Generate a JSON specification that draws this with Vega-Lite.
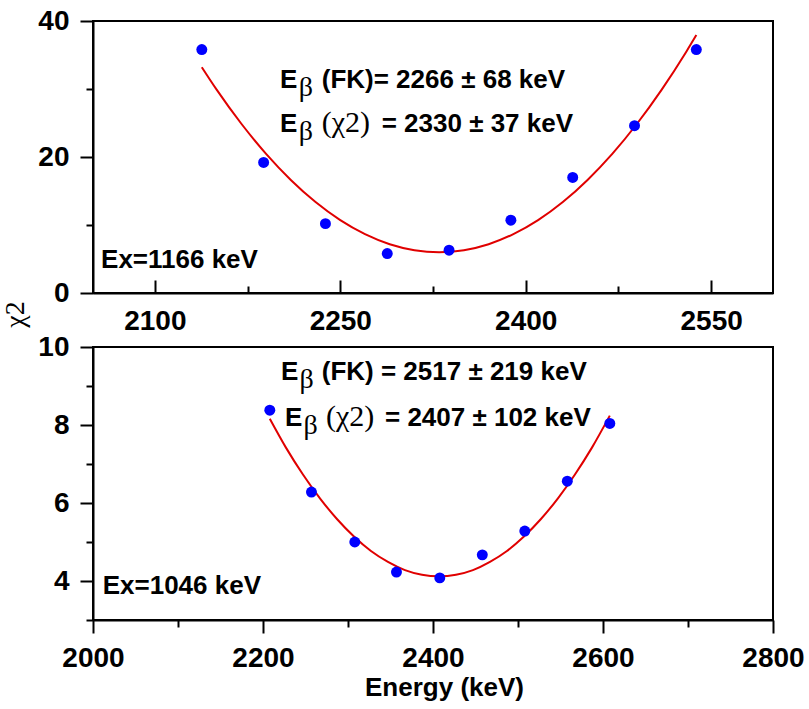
{
  "$schema": "https://vega.github.io/schema/vega-lite/v6.json",
  "padding": {"left": 0, "top": 6, "right": 2, "bottom": 5},
  "background": "white",
  "bounds": "flush",
  "spacing": 54,
  "datasets": {
    "top_pts": [
      {"energy": 2138, "chi2": 35.8}, {"energy": 2188, "chi2": 19.2}, {"energy": 2238, "chi2": 10.2},
      {"energy": 2288, "chi2": 5.8}, {"energy": 2338, "chi2": 6.3}, {"energy": 2388, "chi2": 10.7},
      {"energy": 2438, "chi2": 17.0}, {"energy": 2488, "chi2": 24.6}, {"energy": 2538, "chi2": 35.8}
    ],
    "top_fit": [
      {"energy": 2138, "chi2": 33.21}, {"energy": 2150, "chi2": 29.91}, {"energy": 2170, "chi2": 24.89},
      {"energy": 2190, "chi2": 20.46}, {"energy": 2210, "chi2": 16.63}, {"energy": 2230, "chi2": 13.38},
      {"energy": 2250, "chi2": 10.72}, {"energy": 2270, "chi2": 8.66}, {"energy": 2290, "chi2": 7.18},
      {"energy": 2310, "chi2": 6.30}, {"energy": 2330, "chi2": 6.00}, {"energy": 2350, "chi2": 6.30},
      {"energy": 2370, "chi2": 7.18}, {"energy": 2390, "chi2": 8.66}, {"energy": 2410, "chi2": 10.72},
      {"energy": 2430, "chi2": 13.38}, {"energy": 2450, "chi2": 16.63}, {"energy": 2470, "chi2": 20.46},
      {"energy": 2490, "chi2": 24.89}, {"energy": 2510, "chi2": 29.91}, {"energy": 2530, "chi2": 35.52},
      {"energy": 2538, "chi2": 37.93}
    ],
    "top_txt": [
      {"part": "E", "energy": 2201.2, "chi2": 30.15, "text": "E"},
      {"part": "sub", "energy": 2216.5, "chi2": 30.15, "text": "β"},
      {"part": "value", "energy": 2235.0, "chi2": 30.15, "text": "(FK)= 2266 ± 68 keV"},
      {"part": "E", "energy": 2201.2, "chi2": 23.75, "text": "E"},
      {"part": "sub", "energy": 2216.5, "chi2": 23.75, "text": "β"},
      {"part": "sym", "energy": 2235.0, "chi2": 23.75, "text": "(χ2)"},
      {"part": "value", "energy": 2283.5, "chi2": 23.75, "text": "= 2330 ± 37 keV"},
      {"part": "value", "energy": 2056.5, "chi2": 3.75, "text": "Ex=1166 keV"}
    ],
    "bot_pts": [
      {"energy": 2208, "chi2": 8.38}, {"energy": 2257, "chi2": 6.28}, {"energy": 2308, "chi2": 5.0},
      {"energy": 2357, "chi2": 4.23}, {"energy": 2408, "chi2": 4.08}, {"energy": 2458, "chi2": 4.67},
      {"energy": 2508, "chi2": 5.28}, {"energy": 2558, "chi2": 6.56}, {"energy": 2608, "chi2": 8.04}
    ],
    "bot_fit": [
      {"energy": 2208, "chi2": 8.16}, {"energy": 2227, "chi2": 7.42}, {"energy": 2247, "chi2": 6.73},
      {"energy": 2267, "chi2": 6.12}, {"energy": 2287, "chi2": 5.59}, {"energy": 2307, "chi2": 5.14},
      {"energy": 2327, "chi2": 4.77}, {"energy": 2347, "chi2": 4.49}, {"energy": 2367, "chi2": 4.28},
      {"energy": 2387, "chi2": 4.16}, {"energy": 2407, "chi2": 4.12}, {"energy": 2427, "chi2": 4.16},
      {"energy": 2447, "chi2": 4.28}, {"energy": 2467, "chi2": 4.49}, {"energy": 2487, "chi2": 4.77},
      {"energy": 2507, "chi2": 5.14}, {"energy": 2527, "chi2": 5.59}, {"energy": 2547, "chi2": 6.12},
      {"energy": 2567, "chi2": 6.73}, {"energy": 2587, "chi2": 7.42}, {"energy": 2608, "chi2": 8.24}
    ],
    "bot_txt": [
      {"part": "E", "energy": 2221.2, "chi2": 9.154, "text": "E"},
      {"part": "sub", "energy": 2243.0, "chi2": 9.154, "text": "β"},
      {"part": "value", "energy": 2269.1, "chi2": 9.154, "text": "(FK) = 2517 ± 219 keV"},
      {"part": "E", "energy": 2225.9, "chi2": 7.974, "text": "E"},
      {"part": "sub", "energy": 2247.7, "chi2": 7.974, "text": "β"},
      {"part": "sym", "energy": 2274.1, "chi2": 7.974, "text": "(χ2)"},
      {"part": "value", "energy": 2343.5, "chi2": 7.974, "text": "= 2407 ± 102 keV"},
      {"part": "value", "energy": 2011.4, "chi2": 3.667, "text": "Ex=1046 keV"}
    ]
  },
  "vconcat": [
    {
      "width": 680,
      "height": 272,
      "layer": [
        {
          "data": {"name": "top_fit"},
          "mark": {"type": "line", "color": "#e00000", "strokeWidth": 2, "interpolate": "monotone"},
          "encoding": {
            "x": {"field": "energy", "type": "quantitative", "scale": {"domain": [2050, 2600], "nice": false, "zero": false},
                  "axis": {"orient": "bottom", "values": [2175, 2325, 2475], "tickSize": -7, "labels": false, "domain": false, "title": null}},
            "y": {"field": "chi2", "type": "quantitative", "scale": {"domain": [0, 40], "nice": false, "zero": false},
                  "axis": {"orient": "left", "values": [10, 30], "tickSize": 7, "labels": false, "domain": false, "title": null}}
          }
        },
        {
          "data": {"name": "top_pts"},
          "mark": {"type": "circle", "size": 120, "color": "#0000ff", "opacity": 1},
          "encoding": {
            "x": {"field": "energy", "type": "quantitative", "scale": {"domain": [2050, 2600], "nice": false, "zero": false},
                  "axis": {"orient": "bottom", "values": [2100, 2250, 2400, 2550], "format": "d", "tickSize": -13, "labelPadding": 27, "title": null}},
            "y": {"field": "chi2", "type": "quantitative", "scale": {"domain": [0, 40], "nice": false, "zero": false},
                  "axis": {"orient": "left", "values": [0, 20, 40], "format": "d", "tickSize": 13, "labelPadding": 11,
                           "title": "χ2", "titleFont": "Liberation Serif", "titleFontWeight": "normal", "titleFontSize": 28,
                           "titleX": -78, "titleY": 293, "titleAngle": -90, "titleAlign": "center", "titleBaseline": "middle"}}
          }
        },
        {
          "data": {"name": "top_txt"},
          "transform": [{"filter": "datum.part === 'E' || datum.part === 'value'"}],
          "mark": {"type": "text", "align": "left", "baseline": "alphabetic", "font": "Liberation Sans", "fontWeight": "bold", "fontSize": 26, "color": "black"},
          "encoding": {
            "x": {"field": "energy", "type": "quantitative", "scale": {"domain": [2050, 2600], "nice": false, "zero": false}, "axis": null},
            "y": {"field": "chi2", "type": "quantitative", "scale": {"domain": [0, 40], "nice": false, "zero": false}, "axis": null},
            "text": {"field": "text"}
          }
        },
        {
          "data": {"name": "top_txt"},
          "transform": [{"filter": "datum.part === 'sub'"}],
          "mark": {"type": "text", "align": "left", "baseline": "alphabetic", "font": "Liberation Serif", "fontSize": 28, "dy": 8, "color": "black"},
          "encoding": {
            "x": {"field": "energy", "type": "quantitative", "scale": {"domain": [2050, 2600], "nice": false, "zero": false}, "axis": null},
            "y": {"field": "chi2", "type": "quantitative", "scale": {"domain": [0, 40], "nice": false, "zero": false}, "axis": null},
            "text": {"field": "text"}
          }
        },
        {
          "data": {"name": "top_txt"},
          "transform": [{"filter": "datum.part === 'sym'"}],
          "mark": {"type": "text", "align": "left", "baseline": "alphabetic", "font": "Liberation Serif", "fontSize": 30, "color": "black"},
          "encoding": {
            "x": {"field": "energy", "type": "quantitative", "scale": {"domain": [2050, 2600], "nice": false, "zero": false}, "axis": null},
            "y": {"field": "chi2", "type": "quantitative", "scale": {"domain": [0, 40], "nice": false, "zero": false}, "axis": null},
            "text": {"field": "text"}
          }
        }
      ],
      "resolve": {"axis": {"x": "independent", "y": "independent"}}
    },
    {
      "width": 680,
      "height": 273,
      "layer": [
        {
          "data": {"name": "bot_fit"},
          "mark": {"type": "line", "color": "#e00000", "strokeWidth": 2, "interpolate": "monotone"},
          "encoding": {
            "x": {"field": "energy", "type": "quantitative", "scale": {"domain": [2000, 2800], "nice": false, "zero": false},
                  "axis": {"orient": "bottom", "values": [2100, 2300, 2500, 2700], "tickSize": 7, "labels": false, "domain": false, "title": null}},
            "y": {"field": "chi2", "type": "quantitative", "scale": {"domain": [3, 10], "nice": false, "zero": false},
                  "axis": {"orient": "left", "values": [3, 5, 7, 9], "tickSize": 7, "labels": false, "domain": false, "title": null}}
          }
        },
        {
          "data": {"name": "bot_pts"},
          "mark": {"type": "circle", "size": 120, "color": "#0000ff", "opacity": 1},
          "encoding": {
            "x": {"field": "energy", "type": "quantitative", "scale": {"domain": [2000, 2800], "nice": false, "zero": false},
                  "axis": {"orient": "bottom", "values": [2000, 2200, 2400, 2600, 2800], "format": "d", "tickSize": 13, "labelPadding": 11,
                           "title": "Energy (keV)", "titleX": 351, "titleY": 54, "titleAlign": "center", "titleBaseline": "top"}},
            "y": {"field": "chi2", "type": "quantitative", "scale": {"domain": [3, 10], "nice": false, "zero": false},
                  "axis": {"orient": "left", "values": [4, 6, 8, 10], "format": "d", "tickSize": 13, "labelPadding": 11, "title": null}}
          }
        },
        {
          "data": {"name": "bot_txt"},
          "transform": [{"filter": "datum.part === 'E' || datum.part === 'value'"}],
          "mark": {"type": "text", "align": "left", "baseline": "alphabetic", "font": "Liberation Sans", "fontWeight": "bold", "fontSize": 26, "color": "black"},
          "encoding": {
            "x": {"field": "energy", "type": "quantitative", "scale": {"domain": [2000, 2800], "nice": false, "zero": false}, "axis": null},
            "y": {"field": "chi2", "type": "quantitative", "scale": {"domain": [3, 10], "nice": false, "zero": false}, "axis": null},
            "text": {"field": "text"}
          }
        },
        {
          "data": {"name": "bot_txt"},
          "transform": [{"filter": "datum.part === 'sub'"}],
          "mark": {"type": "text", "align": "left", "baseline": "alphabetic", "font": "Liberation Serif", "fontSize": 28, "dy": 8, "color": "black"},
          "encoding": {
            "x": {"field": "energy", "type": "quantitative", "scale": {"domain": [2000, 2800], "nice": false, "zero": false}, "axis": null},
            "y": {"field": "chi2", "type": "quantitative", "scale": {"domain": [3, 10], "nice": false, "zero": false}, "axis": null},
            "text": {"field": "text"}
          }
        },
        {
          "data": {"name": "bot_txt"},
          "transform": [{"filter": "datum.part === 'sym'"}],
          "mark": {"type": "text", "align": "left", "baseline": "alphabetic", "font": "Liberation Serif", "fontSize": 30, "color": "black"},
          "encoding": {
            "x": {"field": "energy", "type": "quantitative", "scale": {"domain": [2000, 2800], "nice": false, "zero": false}, "axis": null},
            "y": {"field": "chi2", "type": "quantitative", "scale": {"domain": [3, 10], "nice": false, "zero": false}, "axis": null},
            "text": {"field": "text"}
          }
        }
      ],
      "resolve": {"axis": {"x": "independent", "y": "independent"}}
    }
  ],
  "config": {
    "view": {"stroke": "black", "strokeWidth": 2},
    "axis": {
      "grid": false, "domainColor": "black", "domainWidth": 2, "tickColor": "black", "tickWidth": 2,
      "labelFont": "Liberation Sans", "labelFontWeight": "bold", "labelFontSize": 28, "labelColor": "black",
      "labelFlush": false, "labelOverlap": false,
      "titleFont": "Liberation Sans", "titleFontWeight": "bold", "titleFontSize": 26, "titleColor": "black"
    }
  }
}
